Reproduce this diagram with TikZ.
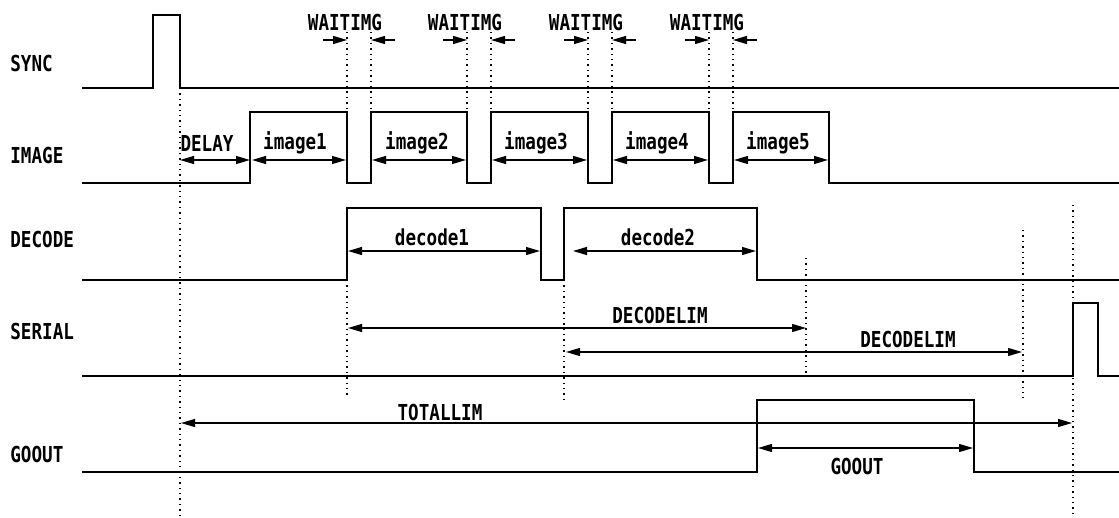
\documentclass[tikz,border=0pt]{standalone}
\usepackage{fontspec}
\newfontfamily\gothic{DejaVu Sans Mono}[FakeStretch=0.8]
\usepackage{tikz}
\usetikzlibrary{arrows.meta}
\tikzset{every picture/.style={x=0.5pt,y=-0.5pt,every node/.style={font=\gothic\bfseries\fontsize{11}{13}\selectfont,inner sep=0pt}},
  sig/.style={line width=0.8pt},
  dim/.style={line width=0.6pt,{Triangle[length=7pt,width=4pt]}-{Triangle[length=7pt,width=4pt]}},
  tip/.style={line width=0.6pt,-{Triangle[length=7pt,width=4pt]}},
  guide/.style={dotted,line width=0.7pt}}

\begin{document}
\begin{tikzpicture}
        \useasboundingbox (0,0) rectangle (1119,518);

        % signal names
        \node[anchor=west] (sync) at (10, 63) {SYNC};
        \node[anchor=west] (image) at (10, 155) {IMAGE};
        \node[anchor=west] (decode) at (10, 239) {DECODE};
        \node[anchor=west] (serial) at (10, 331) {SERIAL};
        \node[anchor=west] (goout) at (10, 454) {GOOUT};

        % waveforms
        \draw[sig] (82,88) -- (153,88) -- (153,15) -- (180,15) -- (180,88) -- (1119,88);
        \draw[sig] (82,183) -- (250,183) -- (250,112) -- (347,112) -- (347,183) -- (371,183)
          -- (371,112) -- (467,112) -- (467,183) -- (491,183) -- (491,112) -- (588,112)
          -- (588,183) -- (612,183) -- (612,112) -- (709,112) -- (709,183) -- (733,183)
          -- (733,112) -- (829,112) -- (829,183) -- (1119,183);
        \draw[sig] (82,280) -- (347,280) -- (347,208) -- (541,208) -- (541,280) -- (564,280)
          -- (564,208) -- (757,208) -- (757,280) -- (1119,280);
        \draw[sig] (82,376) -- (1073,376) -- (1073,303) -- (1098,303) -- (1098,376) -- (1119,376);
        \draw[sig] (82,472) -- (757,472) -- (757,400) -- (974,400) -- (974,472) -- (1119,472);

        % guides
        \foreach \x/\top/\bot in {180/88/518, 347/280/398, 564/280/400, 806/258/373,
          1023/230/398, 1073/205/518}
        \draw[guide] (\x,\top) -- (\x,\bot);

        % waiting gaps
        \foreach \a/\b [count=\i] in {347/371, 467/491, 588/612, 709/733} {
          \node (w\i) at (\a-2, 22) {WAITIMG};
          \draw[guide] (\a,32) -- (\a,112);
          \draw[guide] (\b,32) -- (\b,112);
          \draw[tip] (\a-24,40) -- (\a,40);
          \draw[tip] (\b+24,40) -- (\b,40);
        }

        % image periods
        \node (delay) at (207, 143) {DELAY};
        \draw[dim] (180,160) -- (250,160);
        \foreach \a/\b/\c [count=\i] in {252/346/295, 372/466/417, 492/587/536,
          613/708/657, 734/828/778} {
          \node (img\i) at (\c, 143) {image\i};
          \draw[dim] (\a,160) -- (\b,160);
        }

        % decode periods
        \node (dec1) at (432, 237) {decode1};
        \draw[dim] (348,251) -- (540,251);
        \node (dec2) at (658, 237) {decode2};
        \draw[dim] (573,251) -- (756,251);

        % limits
        \node (lim1) at (660, 315) {DECODELIM};
        \draw[dim] (348,328) -- (806,328);
        \node (lim2) at (908, 339) {DECODELIM};
        \draw[dim] (566,352) -- (1022,352);
        \node (total) at (440, 412) {TOTALLIM};
        \draw[dim] (181,423) -- (1072,423);
        \node (go) at (857, 466) {GOOUT};
        \draw[dim] (758,448) -- (973,448);
      \end{tikzpicture}
\end{document}
